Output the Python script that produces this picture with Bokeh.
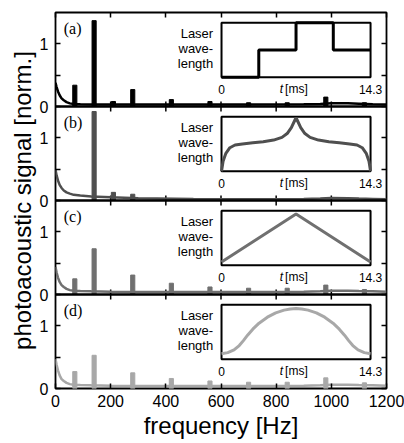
from bokeh.plotting import figure
from bokeh.models import Range1d, LinearAxis, FixedTicker, Span
from bokeh.core.properties import value
from bokeh.embed import file_html
from bokeh.resources import INLINE

# ---------------- data ----------------
panel_labels = ["(a)", "(b)", "(c)", "(d)"]
colors = ["#000000", "#4f4f4f", "#707070", "#a8a8a8"]

x_ticks = [0, 200, 400, 600, 800, 1000, 1200]
y_ticks = [0, 0.5, 1]
y_tick_text = ["0", "", "1"]

bg_freq = [0, 4, 9, 15, 22, 30, 40, 52, 66, 90, 130, 200, 300, 500, 700, 900, 960, 1000, 1060, 1100, 1150, 1200]
bg_a = [0.38, 0.31, 0.24, 0.18, 0.13, 0.10, 0.07, 0.05, 0.04, 0.035, 0.03, 0.03, 0.03, 0.03, 0.03, 0.035, 0.04, 0.05, 0.05, 0.045, 0.035, 0.03]
bg_b = [0.49, 0.40, 0.32, 0.25, 0.20, 0.16, 0.13, 0.11, 0.09, 0.08, 0.065, 0.05, 0.035, 0.025, 0.02, 0.025, 0.03, 0.04, 0.035, 0.03, 0.025, 0.02]
bg_c = [0.44, 0.35, 0.27, 0.20, 0.15, 0.12, 0.09, 0.07, 0.06, 0.055, 0.05, 0.045, 0.04, 0.04, 0.04, 0.045, 0.05, 0.06, 0.06, 0.055, 0.05, 0.045]
bg_d = [0.47, 0.38, 0.29, 0.21, 0.15, 0.12, 0.09, 0.07, 0.06, 0.055, 0.05, 0.045, 0.04, 0.04, 0.04, 0.045, 0.05, 0.06, 0.06, 0.055, 0.05, 0.045]

peak_f_a = [70, 140, 210, 280, 420, 560, 700, 840, 980, 1120]
peak_h_a = [0.34, 1.37, 0.08, 0.27, 0.11, 0.08, 0.06, 0.06, 0.15, 0.06]
peak_f_b = [140, 210, 280]
peak_h_b = [1.42, 0.13, 0.10]
peak_f_c = [70, 140, 280, 420, 560, 700, 840, 980, 1120]
peak_h_c = [0.25, 0.73, 0.31, 0.18, 0.12, 0.10, 0.10, 0.15, 0.08]
peak_f_d = [70, 140, 280, 420, 560, 700, 840, 980, 1120]
peak_h_d = [0.27, 0.53, 0.25, 0.16, 0.12, 0.10, 0.10, 0.17, 0.09]

# insets: laser wavelength vs time t [ms]
inset_a_t = [0, 3.575, 7.15, 10.725, 14.3]
inset_a_y = [0, 0.5, 1, 0.5, 0.5]
inset_b_t = [0, 0.15, 0.4, 0.8, 1.3, 2, 3, 4, 5, 5.8, 6.3, 6.7, 7.0, 7.15,
             7.3, 7.6, 8.0, 8.5, 9.3, 10.3, 11.3, 12.3, 13.0, 13.5, 13.9, 14.15, 14.3]
inset_b_y = [0, 0.18, 0.32, 0.43, 0.48, 0.50, 0.52, 0.54, 0.57, 0.62, 0.69, 0.80, 0.92, 0.98,
             0.92, 0.80, 0.69, 0.62, 0.57, 0.54, 0.52, 0.50, 0.48, 0.43, 0.32, 0.18, 0]
inset_c_t = [0, 7.15, 14.3]
inset_c_y = [0.06, 0.94, 0.06]
inset_d_t = [0, 0.6, 1.2, 1.7, 2.1, 2.5, 3.0, 3.6, 4.4, 5.2, 6.0, 6.6, 7.15,
             7.7, 8.3, 9.1, 9.9, 10.7, 11.3, 11.8, 12.2, 12.6, 13.1, 13.7, 14.3]
inset_d_y = [0.10, 0.12, 0.17, 0.25, 0.34, 0.44, 0.55, 0.66, 0.77, 0.85, 0.90, 0.92, 0.93,
             0.92, 0.90, 0.85, 0.77, 0.66, 0.55, 0.44, 0.34, 0.25, 0.17, 0.12, 0.10]
inset_t_end = 14.3
inset_text = ["Laser", "wave-", "length"]

bgs = [bg_a, bg_b, bg_c, bg_d]
peaks_f = [peak_f_a, peak_f_b, peak_f_c, peak_f_d]
peaks_h = [peak_h_a, peak_h_b, peak_h_c, peak_h_d]
insets = [(inset_a_t, inset_a_y), (inset_b_t, inset_b_y), (inset_c_t, inset_c_y), (inset_d_t, inset_d_y)]

# ---------------- layout ----------------
FONT = "Liberation Sans"
SERIF = "Liberation Serif"
FW, FH = 331, 376
NP = 4
PANEL = 1.5                 # y span of one panel
TOTAL = NP * PANEL
INSET_X = (-15.93, 15.83)   # inset time range over the whole frame width
INSET_LO, INSET_HI = 0.468, 1.338   # inset box in panel units

p = figure(frame_width=FW, frame_height=FH, x_range=Range1d(0, 1200), y_range=Range1d(0, TOTAL),
           output_backend="svg", toolbar_location=None,
           min_border_left=55, min_border_right=18, min_border_top=12, min_border_bottom=0,
           x_axis_location=None, y_axis_location=None)
p.grid.visible = False
p.outline_line_color = "black"
p.outline_line_width = 1.8
p.background_fill_color = "white"
p.border_fill_color = "white"

offsets = [(NP - 1 - k) * PANEL for k in range(NP)]
all_y_ticks = [o + t for o in offsets[::-1] for t in y_ticks]
overrides = {o + t: s for o in offsets for t, s in zip(y_ticks, y_tick_text)}


def style_axis(ax, labels):
    ax.axis_line_color = None
    ax.major_tick_in = 5
    ax.major_tick_out = 0
    ax.minor_tick_line_color = None
    ax.major_tick_line_color = "black"
    ax.major_tick_line_width = 1.5
    if labels:
        ax.major_label_text_font = FONT
        ax.major_label_text_font_size = "16px"
        ax.major_label_text_color = "black"
        ax.axis_label_text_font = FONT
        ax.axis_label_text_font_size = "24px"
        ax.axis_label_text_font_style = "normal"
        ax.axis_label_text_color = "black"
    else:
        ax.major_label_text_font_size = "1px"
        ax.major_label_text_color = None
        ax.major_label_standoff = 0


left = LinearAxis(ticker=FixedTicker(ticks=all_y_ticks), major_label_overrides=overrides,
                  axis_label="photoacoustic signal [norm.]")
style_axis(left, True)
left.major_label_standoff = 7
left.axis_label_standoff = 1
p.add_layout(left, "left")
right = LinearAxis(ticker=FixedTicker(ticks=all_y_ticks))
style_axis(right, False)
p.add_layout(right, "right")
top = LinearAxis(ticker=FixedTicker(ticks=x_ticks))
style_axis(top, False)
p.add_layout(top, "above")
bottom = LinearAxis(ticker=FixedTicker(ticks=x_ticks), axis_label="frequency [Hz]")
style_axis(bottom, True)
bottom.major_label_standoff = 6
bottom.axis_label_standoff = 2
p.add_layout(bottom, "below")

# panel separators and their inward ticks
inner_x = x_ticks[1:-1]
tick_len = 5.0 / FH * TOTAL
for o in offsets[:-1]:
    p.add_layout(Span(location=o, dimension="width", line_color="black", line_width=2.5))
    p.segment(x0=inner_x, x1=inner_x, y0=[o - tick_len] * len(inner_x), y1=[o + tick_len] * len(inner_x),
              line_color="black", line_width=1.5)

inset_scale = INSET_HI - INSET_LO
ranges_x = {"inset": Range1d(*INSET_X)}
ranges_y = {}
for k, o in enumerate(offsets):
    ranges_y["p%d" % k] = Range1d(-o, TOTAL - o)
    base = INSET_LO + o
    ranges_y["i%d" % k] = Range1d(-base / inset_scale, (TOTAL - base) / inset_scale)
p.extra_x_ranges = ranges_x
p.extra_y_ranges = ranges_y

for k in range(NP):
    col = colors[k]
    pr, ir = "p%d" % k, "i%d" % k
    p.line(bg_freq, bgs[k], line_color=col, line_width=2.5, y_range_name=pr)
    p.vbar(x=peaks_f[k], top=peaks_h[k], bottom=0, width=15, fill_color=col, line_color=col,
           line_width=1, y_range_name=pr)

    p.quad(left=0, right=inset_t_end, bottom=0, top=1, fill_color="white", line_color="black",
           line_width=2, x_range_name="inset", y_range_name=ir)
    t, y = insets[k]
    if k == 0:
        p.step(t, y, mode="after", line_color=col, line_width=3, x_range_name="inset", y_range_name=ir)
    else:
        p.line(t, y, line_color=col, line_width=3, x_range_name="inset", y_range_name=ir)
    p.text(x=[-0.8, -0.8, -0.8], y=[0.80, 0.52, 0.25], text=inset_text,
           text_font=value(FONT), text_font_size="13px", text_align="right",
           text_baseline="middle", text_color="black", x_range_name="inset", y_range_name=ir)
    p.text(x=[0, inset_t_end], y=[-0.22, -0.22], text=["0", "14.3"],
           text_font=value(FONT), text_font_size="12px", text_align="center",
           text_baseline="middle", text_color="black", x_range_name="inset", y_range_name=ir)
    p.text(x=[5.9], y=[-0.22], text=["t"], text_font=value(FONT), text_font_size="12px",
           text_font_style="italic", text_align="right", text_baseline="middle",
           text_color="black", x_range_name="inset", y_range_name=ir)
    p.text(x=[6.1], y=[-0.22], text=["[ms]"], text_font=value(FONT), text_font_size="12px",
           text_align="left", text_baseline="middle", text_color="black",
           x_range_name="inset", y_range_name=ir)
    p.text(x=[30], y=[1.24], text=[panel_labels[k]], text_font=value(SERIF), text_font_size="16px",
           text_align="left", text_baseline="middle", text_color="black", y_range_name=pr)

open("out.html", "w").write(file_html(p, INLINE))
